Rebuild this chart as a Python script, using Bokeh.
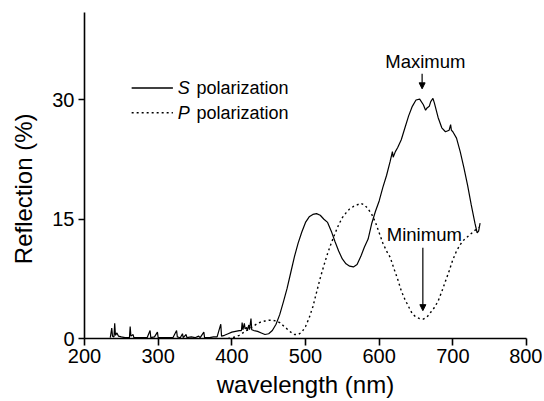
from bokeh.plotting import figure
from bokeh.models import FixedTicker, Label, Arrow, NormalHead, Range1d
from bokeh.embed import file_html
from bokeh.resources import INLINE

# S polarization spectrum (wavelength nm, reflection %)
s_wl = [235, 237, 238, 240, 241, 242, 244, 246, 250, 255, 261, 262, 263, 266, 267,
        275, 285, 289, 290, 295, 299, 300, 310, 320, 325, 326, 330, 333, 334, 338,
        339, 345, 350, 355, 357, 362, 363, 370, 375, 380, 385, 386, 390, 395, 400,
        405, 410, 413, 414, 415, 417, 418, 420, 421, 423, 424, 426, 427, 430, 435,
        440, 445, 450, 455, 460, 465, 470, 475, 480, 485, 490, 495, 500, 505, 510,
        515, 520, 525, 530, 535, 540, 545, 550, 555, 560, 565, 570, 575, 580, 585,
        590, 595, 600, 605, 610, 615, 618, 619, 622, 625, 630, 635, 640, 645, 650,
        655, 660, 663, 665, 668, 670, 673, 675, 680, 685, 690, 695, 697, 698, 700,
        705, 710, 715, 720, 725, 730, 733, 735, 737]
s_refl = [0.1, 1.3, 0.3, 0.2, 1.9, 0.4, 0.7, 0.3, 0.2, 0.1, 0.1, 1.5, 0.3, 0.5, 0.1,
          0.1, 0.1, 1.0, 0.1, 0.2, 0.8, 0.1, 0.1, 0.1, 1.0, 0.2, 0.1, 0.6, 0.1, 0.5,
          0.1, 0.2, 0.1, 0.3, 0.1, 0.8, 0.1, 0.1, 0.2, 0.2, 1.8, 0.3, 0.4, 0.6, 0.8,
          0.9, 1.0, 1.0, 2.0, 1.1, 1.9, 1.2, 1.4, 1.0, 1.7, 1.1, 2.5, 1.1, 1.0, 0.9,
          0.7, 0.5, 0.6, 1.0, 1.8, 3.0, 4.6, 6.3, 8.3, 10.3, 12.0, 13.4, 14.6, 15.3, 15.6,
          15.7, 15.5, 15.0, 14.6, 13.5, 12.2, 11.0, 10.0, 9.4, 9.1, 9.0, 9.3, 10.3, 11.5, 12.5,
          14.5, 16.0, 17.3, 19.0, 20.5, 22.3, 23.5, 22.8, 23.5, 24.0, 25.0, 26.5, 28.0, 29.2, 30.0,
          30.1, 29.4, 28.7, 29.0, 29.2, 29.8, 30.2, 29.6, 27.8, 26.5, 26.0, 26.2, 26.9, 26.2, 26.0,
          25.2, 23.5, 21.5, 19.3, 16.8, 14.5, 13.3, 13.5, 14.5]

# P polarization spectrum
p_wl = [395, 400, 405, 410, 415, 420, 425, 430, 435, 440, 445, 450, 455, 460, 465,
        470, 475, 480, 485, 490, 495, 500, 505, 510, 515, 520, 525, 530, 535, 540,
        545, 550, 555, 560, 565, 570, 575, 580, 585, 590, 595, 600, 605, 610, 615,
        620, 625, 630, 635, 640, 645, 650, 655, 660, 665, 670, 675, 680, 685, 690,
        695, 700, 705, 710, 715, 720, 725, 730, 735]
p_refl = [0.0, 0.1, 0.2, 0.4, 0.7, 1.0, 1.3, 1.6, 1.9, 2.1, 2.2, 2.3, 2.3, 2.2, 2.0,
          1.6, 1.2, 0.8, 0.5, 0.5, 0.8, 1.5, 2.6, 4.0, 5.8, 7.6, 9.2, 10.7, 12.0, 13.2,
          14.3, 15.2, 15.8, 16.3, 16.6, 16.8, 17.0, 16.8, 16.3, 15.6, 14.6, 13.3, 12.0, 11.0, 10.2,
          8.8, 7.5, 6.0, 4.9, 4.0, 3.1, 2.7, 2.5, 2.45, 2.7, 3.3, 3.9, 4.7, 5.9, 7.2,
          8.5, 9.9, 11.0, 11.8, 12.4, 12.8, 13.2, 13.6, 14.0]

x_ticks = [200, 300, 400, 500, 600, 700, 800]
y_ticks = [0, 15, 30]

series_names = ["S", "P"]
max_label = "Maximum"
min_label = "Minimum"

FONT = "Liberation Sans"

p = figure(frame_width=442, frame_height=326,
           x_range=Range1d(200, 800), y_range=Range1d(0, 41),
           output_backend="svg", toolbar_location=None,
           min_border_left=84, min_border_right=16,
           min_border_top=12, min_border_bottom=55)

p.outline_line_color = None
p.grid.visible = False
p.background_fill_color = "white"
p.border_fill_color = "white"

p.line(s_wl, s_refl, line_color="black", line_width=1.2)
p.line(p_wl, p_refl, line_color="black", line_width=1.4, line_dash="2 3")

for ax in (p.xaxis[0], p.yaxis[0]):
    ax.axis_line_width = 1.6
    ax.major_tick_line_width = 1.6
    ax.minor_tick_line_color = None
    ax.major_tick_in = 0
    ax.major_label_text_font = FONT
    ax.major_label_text_font_size = "20px"
    ax.major_label_text_color = "black"
    ax.axis_label_text_font = FONT
    ax.axis_label_text_font_size = "24px"
    ax.axis_label_text_font_style = "normal"
    ax.axis_label_text_color = "black"
    ax.axis_line_color = "black"
    ax.major_tick_line_color = "black"

p.xaxis.ticker = FixedTicker(ticks=x_ticks)
p.yaxis.ticker = FixedTicker(ticks=y_ticks)
p.xaxis.major_tick_out = 7
p.yaxis.major_tick_out = 6
p.xaxis.major_label_standoff = 3
p.yaxis.major_label_standoff = 4
p.xaxis.axis_label = "wavelength (nm)"
p.xaxis.axis_label_standoff = 5
# trailing no-break spaces shift the title a little below the frame centre, as in the original
p.yaxis.axis_label = "Reflection (%)" + "\u00a0" * 4
p.yaxis.axis_label_standoff = 12

# legend (drawn by hand: italic series letter + normal text)
leg_y = [31.5, 28.4]
dashes = ["solid", "2 3"]
for name, yy, dash in zip(series_names, leg_y, dashes):
    p.add_layout(Arrow(end=None, x_start=264, y_start=yy, x_end=320, y_end=yy,
                       line_color="black", line_width=1.4, line_dash=dash))
    p.add_layout(Label(x=326.5, y=yy, text=name, text_font=FONT, text_font_size="18px",
                       text_font_style="italic", text_baseline="middle", text_color="black"))
    p.add_layout(Label(x=352.0, y=yy, text="polarization", text_font=FONT, text_font_size="18px",
                       text_baseline="middle", text_color="black"))

# annotations
p.add_layout(Label(x=662.7, y=34.9, text=max_label, text_font=FONT, text_font_size="18.5px",
                   text_align="center", text_baseline="alphabetic", text_color="black"))
p.add_layout(Arrow(end=NormalHead(size=6, fill_color="black", line_color="black"),
                   x_start=658.3, y_start=33.3, x_end=658.3, y_end=31.4,
                   line_color="black", line_width=1.2))
p.add_layout(Label(x=661.3, y=13.1, text=min_label, text_font=FONT, text_font_size="18.5px",
                   text_align="center", text_baseline="alphabetic", text_color="black"))
p.add_layout(Arrow(end=NormalHead(size=6, fill_color="black", line_color="black"),
                   x_start=659.3, y_start=11.4, x_end=659.3, y_end=3.5,
                   line_color="black", line_width=1.2))

open("out.html", "w").write(file_html(p, INLINE))
